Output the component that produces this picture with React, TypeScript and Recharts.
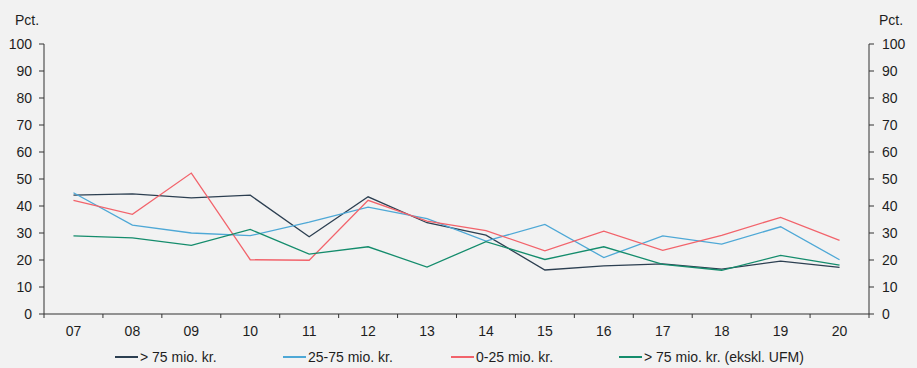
import React from "react";
import { LineChart, Line, XAxis, YAxis } from "recharts";

const years = ["07", "08", "09", "10", "11", "12", "13", "14", "15", "16", "17", "18", "19", "20"];
const over75 = [44, 44.5, 43, 44, 28.6, 43.4, 33.8, 29.2, 16.3, 17.8, 18.6, 16.6, 19.6, 17.3];
const mid25to75 = [44.9, 32.9, 30, 29, 34, 39.6, 35.3, 27, 33.2, 20.9, 28.9, 25.9, 32.3, 20.1];
const under25 = [42.1, 36.9, 52.2, 20.1, 19.9, 42.1, 34.4, 30.9, 23.4, 30.7, 23.6, 29.1, 35.8, 27.3];
const over75exUfm = [28.9, 28.2, 25.4, 31.3, 22.2, 24.9, 17.4, 26.8, 20.2, 24.9, 18.4, 16.2, 21.7, 18.1];
const yTicks = [0, 10, 20, 30, 40, 50, 60, 70, 80, 90, 100];

// both axes share 0-100, so the last series sits on the right one to make it draw its ticks
const series = [
  { key: "over75", name: "> 75 mio. kr.", color: "#2c3f51", axis: "left" },
  { key: "mid", name: "25-75 mio. kr.", color: "#4ea8d6", axis: "left" },
  { key: "under25", name: "0-25 mio. kr.", color: "#f2636b", axis: "left" },
  { key: "exUfm", name: "> 75 mio. kr. (ekskl. UFM)", color: "#148c6c", axis: "right" },
];

const data = years.map((y, i) => ({
  year: y,
  over75: over75[i],
  mid: mid25to75[i],
  under25: under25[i],
  exUfm: over75exUfm[i],
}));

const W = 917;
const H = 368;
const LEFT_W = 44;
const RIGHT_W = 48;
const BAND = (W - LEFT_W - RIGHT_W) / years.length;
const FONT = "'Liberation Sans', Arial, sans-serif";
const TEXT = "#1e1e1e";
const AXIS = "#333";

const XTick = (props: any) => {
  const { x, y, payload, index } = props;
  const top = y - 12;
  return (
    <g>
      <line x1={x - BAND / 2} x2={x - BAND / 2} y1={top} y2={top + 4} stroke={AXIS} />
      {index === years.length - 1 && (
        <line x1={x + BAND / 2} x2={x + BAND / 2} y1={top} y2={top + 4} stroke={AXIS} />
      )}
      <text x={x} y={y} dy="0.71em" textAnchor="middle" fill={TEXT} fontSize={14} fontFamily={FONT}>
        {payload.value}
      </text>
    </g>
  );
};

const App = () => {
  return (
    <div
      style={{
        position: "absolute",
        left: 0,
        top: 0,
        width: W,
        height: H,
        background: "#f2f2f2",
        fontFamily: FONT,
      }}
    >
      <LineChart
        width={W}
        height={H}
        data={data}
        margin={{ top: 44, right: 0, left: 0, bottom: 24 }}
      >
        <XAxis
          dataKey="year"
          scale="band"
          height={30}
          tickSize={4}
          tickMargin={8}
          tickLine={false}
          axisLine={{ stroke: AXIS }}
          tick={<XTick />}
          interval={0}
        />
        <YAxis
          yAxisId="left"
          width={LEFT_W}
          domain={[0, 100]}
          ticks={yTicks}
          interval={0}
          tickSize={5}
          tickMargin={7}
          axisLine={{ stroke: AXIS }}
          tickLine={{ stroke: AXIS }}
          tick={{ fill: TEXT, fontSize: 14, fontFamily: FONT }}
        />
        <YAxis
          yAxisId="right"
          orientation="right"
          width={RIGHT_W}
          domain={[0, 100]}
          ticks={yTicks}
          interval={0}
          tickSize={5}
          tickMargin={8}
          axisLine={{ stroke: AXIS }}
          tickLine={{ stroke: AXIS }}
          tick={{ fill: TEXT, fontSize: 14, fontFamily: FONT }}
        />
        {series.map((s) => (
          <Line
            key={s.key}
            yAxisId={s.axis}
            type="linear"
            dataKey={s.key}
            name={s.name}
            stroke={s.color}
            strokeWidth={1.3}
            dot={false}
            activeDot={false}
            isAnimationActive={false}
          />
        ))}
      </LineChart>
      <div style={{ position: "absolute", left: 15, top: 12, fontSize: 14, color: TEXT }}>Pct.</div>
      <div style={{ position: "absolute", left: 879, top: 12, fontSize: 14, color: TEXT }}>Pct.</div>
      <div
        style={{
          position: "absolute",
          left: 115,
          top: 348,
          width: 720,
          display: "flex",
          fontSize: 14,
          color: TEXT,
          lineHeight: "18px",
          whiteSpace: "nowrap",
        }}
      >
        {series.map((s) => (
          <div key={s.key} style={{ width: 168, flexShrink: 0, display: "flex", alignItems: "center" }}>
            <span
              style={{
                display: "inline-block",
                flexShrink: 0,
                width: 23,
                height: 2,
                background: s.color,
                marginRight: 2,
              }}
            />
            <span>{s.name}</span>
          </div>
        ))}
      </div>
    </div>
  );
};

export default App;
